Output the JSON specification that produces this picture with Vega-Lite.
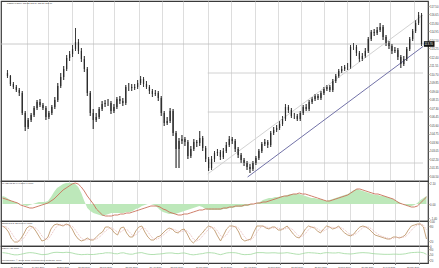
{
"$schema": "https://vega.github.io/schema/vega-lite/v6.json",
"padding": 0,
"background": "white",
"spacing": 0,
"bounds": "flush",
"config": {"view": {"stroke": "#3a3a3a", "strokeWidth": 1.2}, "font": "Liberation Sans", "axis": {"labelFont": "Liberation Sans", "labelColor": "#444", "tickColor": "#777", "labelOverlap": false, "labelBound": false, "labelFlush": false, "tickCount": 60}},
"resolve": {"scale": {"y": "independent"}},
"datasets": {
"p": [
{"i":0,"o":110.8,"h":111.1,"l":110.3,"c":110.5,"m":0.8,"s":0.6,"k":80,"d":78,"r":61},
{"i":1,"o":110.5,"h":110.6,"l":109.5,"c":109.7,"m":0.7,"s":0.5,"k":72,"d":78,"r":59},
{"i":2,"o":109.7,"h":109.9,"l":109.2,"c":109.4,"m":0.5,"s":0.4,"k":56,"d":70,"r":56},
{"i":3,"o":109.4,"h":109.6,"l":108.9,"c":109.1,"m":0.3,"s":0.3,"k":28,"d":52,"r":51},
{"i":4,"o":109.1,"h":109.3,"l":108.5,"c":108.8,"m":0.2,"s":0.2,"k":16,"d":33,"r":48},
{"i":5,"o":108.8,"h":109.0,"l":106.6,"c":106.8,"m":0.1,"s":0.1,"k":16,"d":20,"r":48},
{"i":6,"o":106.8,"h":107.0,"l":105.0,"c":105.4,"m":0.0,"s":-0.1,"k":28,"d":20,"r":51},
{"i":7,"o":105.4,"h":106.3,"l":105.2,"c":106.1,"m":-0.1,"s":-0.2,"k":48,"d":31,"r":55},
{"i":8,"o":106.1,"h":106.8,"l":105.9,"c":106.6,"m":-0.2,"s":-0.3,"k":72,"d":49,"r":59},
{"i":9,"o":106.6,"h":107.5,"l":106.4,"c":107.3,"m":-0.1,"s":-0.4,"k":80,"d":67,"r":61},
{"i":10,"o":107.3,"h":108.1,"l":107.1,"c":107.9,"m":0.0,"s":-0.4,"k":76,"d":76,"r":60},
{"i":11,"o":107.9,"h":108.2,"l":107.4,"c":107.6,"m":0.1,"s":-0.3,"k":60,"d":72,"r":57},
{"i":12,"o":107.6,"h":107.8,"l":107.1,"c":107.3,"m":0.2,"s":-0.2,"k":40,"d":59,"r":53},
{"i":13,"o":107.3,"h":107.5,"l":106.1,"c":106.4,"m":0.2,"s":-0.1,"k":20,"d":40,"r":49},
{"i":14,"o":106.4,"h":107.0,"l":106.2,"c":106.8,"m":0.2,"s":0.0,"k":24,"d":28,"r":50},
{"i":15,"o":106.8,"h":107.6,"l":106.6,"c":107.4,"m":0.3,"s":0.1,"k":36,"d":27,"r":52},
{"i":16,"o":107.4,"h":108.4,"l":107.2,"c":108.1,"m":0.7,"s":0.3,"k":68,"d":43,"r":58},
{"i":17,"o":108.1,"h":109.8,"l":107.9,"c":109.5,"m":1.2,"s":0.5,"k":84,"d":63,"r":62},
{"i":18,"o":109.5,"h":110.8,"l":109.3,"c":110.4,"m":1.6,"s":0.8,"k":88,"d":80,"r":63},
{"i":19,"o":110.4,"h":111.5,"l":110.1,"c":111.2,"m":1.8,"s":1.1,"k":84,"d":85,"r":62},
{"i":20,"o":111.2,"h":112.6,"l":111.0,"c":112.3,"m":2.0,"s":1.4,"k":80,"d":84,"r":61},
{"i":21,"o":112.3,"h":113.0,"l":112.0,"c":112.7,"m":2.1,"s":1.6,"k":88,"d":84,"r":63},
{"i":22,"o":112.7,"h":113.6,"l":112.4,"c":113.2,"m":2.1,"s":1.8,"k":84,"d":84,"r":62},
{"i":23,"o":113.2,"h":115.3,"l":113.0,"c":113.9,"m":2.1,"s":2.0,"k":68,"d":80,"r":59},
{"i":24,"o":113.9,"h":114.2,"l":112.7,"c":113.0,"m":2.0,"s":2.1,"k":44,"d":65,"r":54},
{"i":25,"o":113.0,"h":113.3,"l":111.9,"c":112.2,"m":1.7,"s":2.0,"k":28,"d":47,"r":51},
{"i":26,"o":112.2,"h":112.5,"l":110.9,"c":111.2,"m":1.1,"s":1.7,"k":20,"d":31,"r":49},
{"i":27,"o":111.2,"h":111.4,"l":108.5,"c":108.8,"m":0.3,"s":1.3,"k":24,"d":24,"r":50},
{"i":28,"o":108.8,"h":109.0,"l":106.5,"c":106.8,"m":-0.4,"s":0.8,"k":32,"d":25,"r":51},
{"i":29,"o":106.8,"h":107.2,"l":105.2,"c":106.1,"m":-0.7,"s":0.4,"k":24,"d":27,"r":50},
{"i":30,"o":106.1,"h":106.8,"l":105.9,"c":106.4,"m":-0.9,"s":0.0,"k":24,"d":27,"r":50},
{"i":31,"o":106.4,"h":107.4,"l":106.2,"c":107.2,"m":-1.0,"s":-0.5,"k":36,"d":28,"r":52},
{"i":32,"o":107.2,"h":108.0,"l":107.0,"c":107.7,"m":-1.1,"s":-0.8,"k":48,"d":36,"r":55},
{"i":33,"o":107.7,"h":108.1,"l":107.4,"c":107.8,"m":-1.2,"s":-1.1,"k":56,"d":47,"r":56},
{"i":34,"o":107.8,"h":108.2,"l":107.5,"c":107.8,"m":-1.1,"s":-1.2,"k":76,"d":60,"r":60},
{"i":35,"o":107.8,"h":108.0,"l":106.7,"c":107.0,"m":-1.0,"s":-1.2,"k":76,"d":69,"r":60},
{"i":36,"o":107.0,"h":107.7,"l":106.8,"c":107.4,"m":-0.9,"s":-1.2,"k":68,"d":73,"r":59},
{"i":37,"o":107.4,"h":108.4,"l":107.2,"c":108.2,"m":-0.9,"s":-1.1,"k":52,"d":65,"r":55},
{"i":38,"o":108.2,"h":108.5,"l":107.7,"c":108.0,"m":-0.9,"s":-1.1,"k":44,"d":55,"r":54},
{"i":39,"o":108.0,"h":108.3,"l":107.5,"c":107.8,"m":-0.9,"s":-1.0,"k":72,"d":56,"r":59},
{"i":40,"o":107.8,"h":109.6,"l":107.6,"c":109.4,"m":-0.9,"s":-1.0,"k":76,"d":64,"r":60},
{"i":41,"o":109.4,"h":109.8,"l":109.0,"c":109.4,"m":-0.8,"s":-0.9,"k":52,"d":67,"r":55},
{"i":42,"o":109.4,"h":109.7,"l":109.0,"c":109.3,"m":-0.8,"s":-0.9,"k":36,"d":55,"r":52},
{"i":43,"o":109.3,"h":109.7,"l":109.1,"c":109.4,"m":-0.7,"s":-0.8,"k":36,"d":41,"r":52},
{"i":44,"o":109.4,"h":110.1,"l":109.2,"c":109.8,"m":-0.5,"s":-0.7,"k":60,"d":44,"r":57},
{"i":45,"o":109.8,"h":110.5,"l":109.6,"c":110.2,"m":-0.4,"s":-0.6,"k":76,"d":57,"r":60},
{"i":46,"o":110.2,"h":110.4,"l":109.4,"c":109.7,"m":-0.2,"s":-0.5,"k":80,"d":72,"r":61},
{"i":47,"o":109.7,"h":110.0,"l":109.2,"c":109.4,"m":-0.1,"s":-0.4,"k":56,"d":71,"r":56},
{"i":48,"o":109.4,"h":109.6,"l":108.7,"c":109.0,"m":0.0,"s":-0.3,"k":36,"d":57,"r":52},
{"i":49,"o":109.0,"h":109.2,"l":108.4,"c":108.7,"m":0.0,"s":-0.2,"k":24,"d":39,"r":50},
{"i":50,"o":108.7,"h":109.1,"l":108.5,"c":108.8,"m":-0.1,"s":-0.2,"k":24,"d":28,"r":50},
{"i":51,"o":108.8,"h":109.0,"l":108.0,"c":108.3,"m":-0.3,"s":-0.2,"k":36,"d":28,"r":52},
{"i":52,"o":108.3,"h":108.5,"l":106.5,"c":106.8,"m":-0.6,"s":-0.3,"k":40,"d":33,"r":53},
{"i":53,"o":106.8,"h":107.0,"l":105.5,"c":105.8,"m":-0.8,"s":-0.5,"k":52,"d":43,"r":55},
{"i":54,"o":105.8,"h":106.4,"l":105.6,"c":106.0,"m":-0.9,"s":-0.6,"k":64,"d":52,"r":58},
{"i":55,"o":106.0,"h":107.3,"l":105.8,"c":107.0,"m":-1.0,"s":-0.8,"k":72,"d":63,"r":59},
{"i":56,"o":107.0,"h":107.2,"l":104.5,"c":104.8,"m":-1.0,"s":-0.9,"k":68,"d":68,"r":59},
{"i":57,"o":104.8,"h":105.0,"l":101.3,"c":103.2,"m":-1.0,"s":-1.0,"k":56,"d":65,"r":56},
{"i":58,"o":103.2,"h":104.3,"l":101.3,"c":104.0,"m":-0.9,"s":-1.1,"k":52,"d":59,"r":55},
{"i":59,"o":104.0,"h":104.6,"l":103.7,"c":104.2,"m":-0.8,"s":-1.1,"k":64,"d":57,"r":58},
{"i":60,"o":104.2,"h":104.4,"l":103.5,"c":103.9,"m":-0.7,"s":-1.0,"k":68,"d":61,"r":59},
{"i":61,"o":103.9,"h":104.1,"l":102.2,"c":102.5,"m":-0.6,"s":-1.0,"k":48,"d":60,"r":55},
{"i":62,"o":102.5,"h":103.5,"l":102.3,"c":103.2,"m":-0.5,"s":-0.9,"k":24,"d":47,"r":50},
{"i":63,"o":103.2,"h":104.2,"l":103.0,"c":103.9,"m":-0.4,"s":-0.8,"k":12,"d":28,"r":48},
{"i":64,"o":103.9,"h":104.1,"l":103.4,"c":103.8,"m":-0.3,"s":-0.7,"k":24,"d":20,"r":50},
{"i":65,"o":103.8,"h":105.0,"l":103.5,"c":104.3,"m":-0.2,"s":-0.6,"k":40,"d":25,"r":53},
{"i":66,"o":104.3,"h":104.5,"l":103.0,"c":103.3,"m":-0.3,"s":-0.6,"k":52,"d":39,"r":55},
{"i":67,"o":103.3,"h":103.5,"l":101.9,"c":102.2,"m":-0.5,"s":-0.5,"k":68,"d":53,"r":59},
{"i":68,"o":102.2,"h":102.4,"l":101.0,"c":101.3,"m":-0.6,"s":-0.5,"k":80,"d":67,"r":61},
{"i":69,"o":101.3,"h":102.5,"l":101.1,"c":102.2,"m":-0.6,"s":-0.5,"k":76,"d":75,"r":60},
{"i":70,"o":102.2,"h":103.0,"l":101.9,"c":102.8,"m":-0.6,"s":-0.5,"k":64,"d":73,"r":58},
{"i":71,"o":102.8,"h":103.2,"l":102.5,"c":102.9,"m":-0.6,"s":-0.5,"k":40,"d":60,"r":53},
{"i":72,"o":102.9,"h":103.1,"l":102.1,"c":102.4,"m":-0.6,"s":-0.5,"k":20,"d":41,"r":49},
{"i":73,"o":102.4,"h":103.3,"l":102.2,"c":103.0,"m":-0.5,"s":-0.4,"k":44,"d":35,"r":54},
{"i":74,"o":103.0,"h":103.9,"l":102.8,"c":103.6,"m":-0.5,"s":-0.4,"k":68,"d":44,"r":59},
{"i":75,"o":103.6,"h":104.5,"l":103.4,"c":104.2,"m":-0.4,"s":-0.3,"k":80,"d":64,"r":61},
{"i":76,"o":104.2,"h":104.4,"l":103.7,"c":104.0,"m":-0.4,"s":-0.3,"k":80,"d":76,"r":61},
{"i":77,"o":104.0,"h":104.2,"l":102.9,"c":103.2,"m":-0.3,"s":-0.2,"k":76,"d":79,"r":60},
{"i":78,"o":103.2,"h":103.4,"l":102.3,"c":102.6,"m":-0.3,"s":-0.2,"k":56,"d":71,"r":56},
{"i":79,"o":102.6,"h":102.8,"l":101.8,"c":102.1,"m":-0.3,"s":-0.2,"k":28,"d":53,"r":51},
{"i":80,"o":102.1,"h":102.3,"l":101.5,"c":101.8,"m":-0.2,"s":-0.1,"k":20,"d":35,"r":49},
{"i":81,"o":101.8,"h":102.0,"l":101.1,"c":101.4,"m":-0.2,"s":-0.1,"k":24,"d":24,"r":50},
{"i":82,"o":101.4,"h":101.7,"l":100.8,"c":101.2,"m":-0.1,"s":0.0,"k":28,"d":24,"r":51},
{"i":83,"o":101.2,"h":102.0,"l":101.0,"c":101.8,"m":0.0,"s":0.0,"k":56,"d":36,"r":56},
{"i":84,"o":101.8,"h":102.5,"l":101.6,"c":102.3,"m":0.1,"s":0.1,"k":80,"d":55,"r":61},
{"i":85,"o":102.3,"h":103.2,"l":102.1,"c":103.0,"m":0.2,"s":0.1,"k":80,"d":72,"r":61},
{"i":86,"o":103.0,"h":103.9,"l":102.8,"c":103.7,"m":0.4,"s":0.2,"k":80,"d":80,"r":61},
{"i":87,"o":103.7,"h":104.2,"l":103.5,"c":103.9,"m":0.5,"s":0.2,"k":72,"d":77,"r":59},
{"i":88,"o":103.9,"h":104.1,"l":103.3,"c":103.6,"m":0.6,"s":0.3,"k":68,"d":73,"r":59},
{"i":89,"o":103.6,"h":105.0,"l":103.4,"c":104.8,"m":0.6,"s":0.4,"k":76,"d":72,"r":60},
{"i":90,"o":104.8,"h":105.4,"l":104.6,"c":105.1,"m":0.7,"s":0.5,"k":76,"d":73,"r":60},
{"i":91,"o":105.1,"h":105.6,"l":104.9,"c":105.3,"m":0.7,"s":0.6,"k":64,"d":72,"r":58},
{"i":92,"o":105.3,"h":106.0,"l":105.1,"c":105.7,"m":0.8,"s":0.7,"k":64,"d":68,"r":58},
{"i":93,"o":105.7,"h":106.5,"l":105.5,"c":106.2,"m":0.8,"s":0.8,"k":72,"d":67,"r":59},
{"i":94,"o":106.2,"h":107.7,"l":106.0,"c":107.4,"m":0.9,"s":0.8,"k":80,"d":72,"r":61},
{"i":95,"o":107.4,"h":107.6,"l":106.8,"c":107.1,"m":1.0,"s":0.9,"k":64,"d":72,"r":58},
{"i":96,"o":107.1,"h":107.3,"l":106.3,"c":106.5,"m":1.0,"s":1.0,"k":48,"d":64,"r":55},
{"i":97,"o":106.5,"h":106.8,"l":106.2,"c":106.5,"m":1.0,"s":1.0,"k":36,"d":49,"r":52},
{"i":98,"o":106.5,"h":106.7,"l":106.0,"c":106.2,"m":1.0,"s":1.1,"k":32,"d":39,"r":51},
{"i":99,"o":106.2,"h":107.0,"l":106.0,"c":106.8,"m":0.9,"s":1.0,"k":48,"d":39,"r":55},
{"i":100,"o":106.8,"h":107.6,"l":106.6,"c":107.4,"m":0.8,"s":1.0,"k":68,"d":49,"r":59},
{"i":101,"o":107.4,"h":107.7,"l":107.0,"c":107.2,"m":0.7,"s":0.9,"k":80,"d":65,"r":61},
{"i":102,"o":107.2,"h":108.1,"l":107.0,"c":107.9,"m":0.6,"s":0.8,"k":76,"d":75,"r":60},
{"i":103,"o":107.9,"h":108.4,"l":107.7,"c":108.2,"m":0.6,"s":0.7,"k":72,"d":76,"r":59},
{"i":104,"o":108.2,"h":108.7,"l":108.0,"c":108.5,"m":0.5,"s":0.6,"k":60,"d":69,"r":57},
{"i":105,"o":108.5,"h":108.7,"l":108.1,"c":108.3,"m":0.5,"s":0.5,"k":52,"d":61,"r":55},
{"i":106,"o":108.3,"h":109.0,"l":108.1,"c":108.8,"m":0.4,"s":0.4,"k":68,"d":60,"r":59},
{"i":107,"o":108.8,"h":109.4,"l":108.6,"c":109.2,"m":0.3,"s":0.3,"k":80,"d":67,"r":61},
{"i":108,"o":109.2,"h":109.6,"l":109.0,"c":109.4,"m":0.4,"s":0.3,"k":76,"d":75,"r":60},
{"i":109,"o":109.4,"h":109.6,"l":108.9,"c":109.1,"m":0.5,"s":0.4,"k":68,"d":75,"r":59},
{"i":110,"o":109.1,"h":110.2,"l":108.9,"c":110.0,"m":0.6,"s":0.5,"k":72,"d":72,"r":59},
{"i":111,"o":110.0,"h":110.7,"l":109.8,"c":110.5,"m":0.7,"s":0.6,"k":80,"d":73,"r":61},
{"i":112,"o":110.5,"h":111.2,"l":110.3,"c":111.0,"m":0.8,"s":0.7,"k":64,"d":72,"r":58},
{"i":113,"o":111.0,"h":111.5,"l":110.8,"c":111.2,"m":0.9,"s":0.8,"k":52,"d":65,"r":55},
{"i":114,"o":111.2,"h":111.6,"l":111.0,"c":111.4,"m":1.0,"s":0.9,"k":44,"d":53,"r":54},
{"i":115,"o":111.4,"h":111.8,"l":111.1,"c":111.4,"m":1.2,"s":1.1,"k":40,"d":45,"r":53},
{"i":116,"o":111.4,"h":113.6,"l":111.2,"c":113.4,"m":1.4,"s":1.3,"k":48,"d":44,"r":55},
{"i":117,"o":113.4,"h":113.8,"l":113.1,"c":113.4,"m":1.5,"s":1.5,"k":64,"d":51,"r":58},
{"i":118,"o":113.4,"h":113.6,"l":112.5,"c":112.8,"m":1.4,"s":1.5,"k":76,"d":63,"r":60},
{"i":119,"o":112.8,"h":113.0,"l":111.9,"c":112.2,"m":1.3,"s":1.4,"k":80,"d":73,"r":61},
{"i":120,"o":112.2,"h":112.8,"l":112.0,"c":112.5,"m":1.2,"s":1.3,"k":76,"d":77,"r":60},
{"i":121,"o":112.5,"h":113.3,"l":112.3,"c":113.0,"m":1.1,"s":1.2,"k":68,"d":75,"r":59},
{"i":122,"o":113.0,"h":114.4,"l":112.8,"c":114.2,"m":1.0,"s":1.1,"k":56,"d":67,"r":56},
{"i":123,"o":114.2,"h":115.1,"l":114.0,"c":114.9,"m":0.9,"s":1.0,"k":44,"d":56,"r":54},
{"i":124,"o":114.9,"h":115.2,"l":114.5,"c":114.8,"m":0.9,"s":1.0,"k":40,"d":47,"r":53},
{"i":125,"o":114.8,"h":115.4,"l":114.6,"c":115.1,"m":0.8,"s":0.9,"k":36,"d":40,"r":52},
{"i":126,"o":115.1,"h":115.8,"l":114.9,"c":115.4,"m":0.8,"s":0.8,"k":32,"d":36,"r":51},
{"i":127,"o":115.4,"h":115.6,"l":114.1,"c":114.4,"m":0.7,"s":0.7,"k":28,"d":32,"r":51},
{"i":128,"o":114.4,"h":114.6,"l":113.5,"c":113.8,"m":0.6,"s":0.6,"k":28,"d":29,"r":51},
{"i":129,"o":113.8,"h":114.0,"l":113.2,"c":113.5,"m":0.5,"s":0.5,"k":36,"d":31,"r":52},
{"i":130,"o":113.5,"h":113.7,"l":112.7,"c":113.0,"m":0.3,"s":0.3,"k":36,"d":33,"r":52},
{"i":131,"o":113.0,"h":113.4,"l":112.8,"c":113.1,"m":0.2,"s":0.1,"k":32,"d":35,"r":51},
{"i":132,"o":113.1,"h":113.3,"l":112.1,"c":112.4,"m":0.0,"s":0.0,"k":36,"d":35,"r":52},
{"i":133,"o":112.4,"h":112.6,"l":111.3,"c":111.7,"m":-0.1,"s":-0.1,"k":44,"d":37,"r":54},
{"i":134,"o":111.7,"h":112.5,"l":111.5,"c":112.2,"m":-0.2,"s":-0.2,"k":64,"d":48,"r":58},
{"i":135,"o":112.2,"h":113.4,"l":112.0,"c":113.2,"m":-0.2,"s":-0.3,"k":80,"d":63,"r":61},
{"i":136,"o":113.2,"h":114.4,"l":113.0,"c":114.2,"m":-0.1,"s":-0.3,"k":84,"d":76,"r":62},
{"i":137,"o":114.2,"h":115.2,"l":114.0,"c":115.0,"m":0.1,"s":-0.2,"k":88,"d":84,"r":63},
{"i":138,"o":115.0,"h":116.1,"l":114.8,"c":115.8,"m":0.4,"s":0.1,"k":88,"d":87,"r":63},
{"i":139,"o":115.8,"h":116.9,"l":115.6,"c":116.6,"m":0.6,"s":0.4,"k":76,"d":84,"r":60},
{"i":140,"o":116.6,"h":116.8,"l":113.5,"c":113.7,"m":0.8,"s":0.7,"k":28,"d":64,"r":51}
]
},
"vconcat": [
{
"width": 427, "height": 180,
"layer": [
{"data": {"name": "p"}, "mark": {"type": "rule", "color": "#2a2a2a", "strokeWidth": 0.7},
 "encoding": {
  "x": {"field": "i", "type": "quantitative", "scale": {"domain": [-0.5, 140.5], "nice": false, "zero": false},
        "axis": {"values": [6.5,13.7,21.9,28.8,36,44.5,52.3,59.5,67.7,75.6,83.7,91.6,99.1,107,114.8,122.3,129.5,137.4], "tickCount": 60, "grid": true, "gridColor": "#d4d4d4", "gridWidth": 0.8, "labels": false, "ticks": false, "domain": false, "title": null}},
  "y": {"field": "l", "type": "quantitative", "scale": {"domain": [100, 118], "nice": false, "zero": false},
        "axis": {"orient": "right", "values": [117.5,116.65,115.8,114.95,114.1,113.25,112.4,111.55,110.7,109.85,109,108.15,107.3,106.45,105.6,104.75,103.9,103.05,102.2,101.35,100.5], "tickCount": 60, "format": ".2f", "labelFontSize": 2.8, "labelOverlap": false, "tickSize": 1, "labelPadding": 0.6, "domain": false, "grid": false, "title": null}},
  "y2": {"field": "h"}}},
{"data": {"values": [{"bid": 113.7}]}, "mark": {"type": "rule", "color": "#bdbdbd", "strokeWidth": 0.8},
 "encoding": {"y": {"field": "bid", "type": "quantitative"}}},
{"data": {"values": [{"lvl": 110.8}, {"lvl": 106.9}, {"lvl": 101.8}]}, "mark": {"type": "rule", "color": "#c6c6c6", "strokeWidth": 0.8},
 "encoding": {"x": {"datum": 67.7}, "x2": {"datum": 140.5}, "y": {"field": "lvl", "type": "quantitative"}}},
{"data": {"values": [{"a": 81.2, "pa": 100.4, "b": 140.5, "pb": 113.45, "kind": "support"}, {"a": 67.7, "pa": 100.7, "b": 140.5, "pb": 116.6, "kind": "channel"}]},
 "mark": {"type": "rule", "strokeWidth": 1},
 "encoding": {"x": {"field": "a", "type": "quantitative"}, "x2": {"field": "b"}, "y": {"field": "pa", "type": "quantitative"}, "y2": {"field": "pb"},
  "color": {"field": "kind", "type": "nominal", "scale": {"domain": ["support", "channel"], "range": ["#7272a8", "#d2d2d2"]}, "legend": null}}},
{"data": {"name": "p"}, "mark": {"type": "rule", "color": "#2a2a2a", "strokeWidth": 0.7},
 "encoding": {"x": {"field": "i", "type": "quantitative"}, "y": {"field": "l", "type": "quantitative"}, "y2": {"field": "h"}}},
{"data": {"name": "p"}, "mark": {"type": "bar", "color": "#2a2a2a", "size": 1.2},
 "encoding": {"x": {"field": "i", "type": "quantitative"}, "y": {"field": "o", "type": "quantitative"}, "y2": {"field": "c"}}},
{"data": {"values": [{"bid": 113.7}]}, "mark": {"type": "rect", "color": "#111", "clip": false},
 "encoding": {"x": {"datum": 140.8}, "x2": {"datum": 144.4}, "y": {"datum": 113.98}, "y2": {"datum": 113.42}}},
{"data": {"values": [{"bid": 113.7}]}, "mark": {"type": "text", "color": "white", "fontSize": 2.8, "align": "left", "baseline": "middle", "clip": false},
 "encoding": {"x": {"datum": 141.0}, "y": {"field": "bid", "type": "quantitative"}, "text": {"field": "bid", "format": ".2f"}}},
{"data": {"values": [{"t": "USDCHF,Daily  113.52 113.84 113.20 113.70"}]}, "mark": {"type": "text", "align": "left", "baseline": "top", "fontSize": 2.3, "color": "#333", "dx": 1, "dy": 1},
 "encoding": {"x": {"datum": -0.5}, "y": {"datum": 118}, "text": {"field": "t"}}}
]
},
{
"width": 427, "height": 40,
"data": {"name": "p"},
"layer": [
{"mark": {"type": "area", "color": "#bde8ba", "opacity": 1},
 "encoding": {
  "x": {"field": "i", "type": "quantitative", "scale": {"domain": [-0.5, 140.5], "nice": false, "zero": false},
        "axis": {"values": [6.5,13.7,21.9,28.8,36,44.5,52.3,59.5,67.7,75.6,83.7,91.6,99.1,107,114.8,122.3,129.5,137.4], "tickCount": 60, "grid": true, "gridColor": "#d4d4d4", "gridWidth": 0.8, "labels": false, "ticks": false, "domain": false, "title": null}},
  "y": {"field": "m", "type": "quantitative", "scale": {"domain": [-1.7, 2.3], "nice": false, "zero": false},
        "axis": {"orient": "right", "values": [2.1, 0, -1.4], "tickCount": 60, "format": ".2f", "labelFontSize": 2.8, "labelOverlap": false, "tickSize": 1, "labelPadding": 0.6, "domain": false, "grid": false, "title": null}},
  "y2": {"datum": 0}}},
{"mark": {"type": "line", "color": "#c9705a", "strokeWidth": 0.9},
 "encoding": {"x": {"field": "i", "type": "quantitative"}, "y": {"field": "s", "type": "quantitative"}}},
{"data": {"values": [{"t": "MACD(12,26,9) 0.8000 0.7000"}]}, "mark": {"type": "text", "align": "left", "baseline": "top", "fontSize": 2.3, "color": "#333", "dx": 1, "dy": 1},
 "encoding": {"x": {"datum": -0.5}, "y": {"datum": 2.3}, "text": {"field": "t"}}}
]
},
{
"width": 427, "height": 25,
"data": {"name": "p"},
"layer": [
{"mark": {"type": "line", "color": "#bf9a6e", "strokeWidth": 0.9},
 "encoding": {
  "x": {"field": "i", "type": "quantitative", "scale": {"domain": [-0.5, 140.5], "nice": false, "zero": false},
        "axis": {"values": [6.5,13.7,21.9,28.8,36,44.5,52.3,59.5,67.7,75.6,83.7,91.6,99.1,107,114.8,122.3,129.5,137.4], "tickCount": 60, "grid": true, "gridColor": "#d4d4d4", "gridWidth": 0.8, "labels": false, "ticks": false, "domain": false, "title": null}},
  "y": {"field": "k", "type": "quantitative", "scale": {"domain": [0, 100], "nice": false},
        "axis": {"orient": "right", "values": [100, 80, 20, 0], "tickCount": 60, "labelFontSize": 2.8, "labelOverlap": false, "tickSize": 1, "labelPadding": 0.6, "domain": false, "grid": false, "title": null}}}},
{"mark": {"type": "line", "color": "#e0a0a0", "strokeWidth": 0.7, "strokeDash": [1, 1]},
 "encoding": {"x": {"field": "i", "type": "quantitative"}, "y": {"field": "d", "type": "quantitative"}}},
{"data": {"values": [{"t": "Stoch(5,3,3) 28.0000 64.0000"}]}, "mark": {"type": "text", "align": "left", "baseline": "top", "fontSize": 2.3, "color": "#333", "dx": 1, "dy": 1},
 "encoding": {"x": {"datum": -0.5}, "y": {"datum": 100}, "text": {"field": "t"}}}
]
},
{
"width": 427, "height": 17,
"data": {"name": "p"},
"layer": [
{"mark": {"type": "line", "color": "#9ed89c", "strokeWidth": 0.8},
 "encoding": {
  "x": {"field": "i", "type": "quantitative", "scale": {"domain": [-0.5, 140.5], "nice": false, "zero": false},
        "axis": {"values": [6.5,13.7,21.9,28.8,36,44.5,52.3,59.5,67.7,75.6,83.7,91.6,99.1,107,114.8,122.3,129.5,137.4], "tickCount": 60, "grid": true, "gridColor": "#d4d4d4", "gridWidth": 0.8, "labels": true, "labelFontSize": 2.2, "labelAlign": "right", "labelPadding": 1, "labelOverlap": false, "ticks": true, "tickSize": 1.5, "domain": false, "title": null,
                 "labelExpr": "['27 Oct 2009','24 Nov 2009','28 Dec 2009','25 Jan 2010','22 Feb 2010','25 Mar 2010','27 Apr 2010','25 May 2010','28 Jun 2010','27 Jul 2010','27 Aug 2010','27 Sep 2010','25 Oct 2010','25 Nov 2010','27 Dec 2010','26 Jan 2011','24 Feb 2011','25 Mar 2011'][indexof([6.5,13.7,21.9,28.8,36,44.5,52.3,59.5,67.7,75.6,83.7,91.6,99.1,107,114.8,122.3,129.5,137.4], datum.value)]"}},
  "y": {"field": "r", "type": "quantitative", "scale": {"domain": [0, 100], "nice": false},
        "axis": {"orient": "right", "values": [80, 50, 20], "tickCount": 60, "labelFontSize": 2.8, "labelOverlap": false, "tickSize": 1, "labelPadding": 0.6, "domain": false, "grid": false, "title": null}}}},
{"data": {"values": [{"t": "RSI(14) 51.0000"}]}, "mark": {"type": "text", "align": "left", "baseline": "top", "fontSize": 2.3, "color": "#333", "dx": 1, "dy": 1},
 "encoding": {"x": {"datum": -0.5}, "y": {"datum": 100}, "text": {"field": "t"}}},
{"data": {"values": [{"t": "MetaTrader, © 2001-2011 MetaQuotes Software Corp."}]}, "mark": {"type": "text", "align": "left", "baseline": "bottom", "fontSize": 2.5, "color": "#444", "dx": 1, "dy": -0.5},
 "encoding": {"x": {"datum": -0.5}, "y": {"datum": 0}, "text": {"field": "t"}}}
]
}
]
}
